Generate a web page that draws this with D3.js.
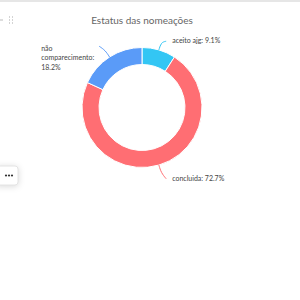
<!DOCTYPE html>
<html>
<head>
<meta charset="utf-8">
<script src="https://cdn.jsdelivr.net/npm/d3@7"></script>
<style>
  body { margin: 0; background: #fff; font-family: Lato, "Open Sans", sans-serif; }
  #chart { width: 300px; height: 300px; }
</style>
</head>
<body>
<div id="chart"></div>
<script>
var categories = ["aceito ajg", "concluida", "não comparecimento"];
var values = [1, 8, 2];
var labelTexts = [["aceito ajg: 9.1%"], ["concluida: 72.7%"], ["não", "comparecimento:", "18.2%"]];
var colors = ["#33c6f4", "#ff6e73", "#5a9bf8"];

function init() {
    var w = 300;
    var h = 300;
    var cx = 142, cy = 107.5;
    var outerR = 60, innerR = 43;

    var svg = d3.select("#chart")
        .append("svg")
        .attr("width", w)
        .attr("height", h);

    // card top border
    svg.append("rect")
        .attr("x", 0).attr("y", 0)
        .attr("width", w).attr("height", 2)
        .attr("fill", "#e6e6e6");

    // drag handle
    svg.append("line")
        .attr("x1", 0).attr("x2", 3).attr("y1", 20).attr("y2", 20)
        .attr("stroke", "#bbb").attr("stroke-width", 1);
    [0, 1, 2].forEach(function(r) {
        [0, 1].forEach(function(c) {
            svg.append("rect")
                .attr("x", 9 + c * 3).attr("y", 16.5 + r * 3)
                .attr("width", 1).attr("height", 1)
                .attr("fill", "#aaa");
        });
    });

    svg.append("text")
        .attr("x", cx)
        .attr("y", 23.5)
        .attr("text-anchor", "middle")
        .attr("font-size", 10)
        .attr("fill", "#666")
        .text("Estatus das nomeações");

    var pie = d3.pie().sort(null).value(function(d) { return d; });
    var arcs = pie(values);
    var arc = d3.arc().innerRadius(innerR).outerRadius(outerR);

    var g = svg.append("g").attr("transform", "translate(" + cx + "," + cy + ")");

    g.selectAll("path.slice")
        .data(arcs)
        .enter()
        .append("path")
        .attr("class", "slice")
        .attr("d", arc)
        .attr("fill", function(d, i) { return colors[i]; })
        .attr("stroke", "#fff")
        .attr("stroke-width", 1);

    // label lines + labels
    var lineGen = d3.line().curve(d3.curveBasis);
    arcs.forEach(function(d, i) {
        var a = (d.startAngle + d.endAngle) / 2;
        var sx = Math.sin(a), sy = -Math.cos(a);
        var right = sx >= 0;
        var top = sy < 0;
        var multi = labelTexts[i].length > 1;
        var p0 = [sx * outerR, sy * outerR];
        var p1 = [sx * (outerR + 8), sy * (outerR + 8)];
        var p2 = [p1[0] + (right ? 5 : -6), p1[1] + (top ? (multi ? -4 : -1) : 6)];
        g.append("path")
            .attr("d", lineGen([p0, p1, p2]))
            .attr("fill", "none")
            .attr("stroke", colors[i])
            .attr("stroke-width", 1);

        var lines = labelTexts[i];
        var lh = 9.5;
        var t = g.append("text")
            .attr("font-size", 7)
            .attr("fill", "#444");
        lines.forEach(function(s, k) {
            t.append("tspan")
                .attr("dy", k === 0 ? 0 : lh)
                .text(s);
        });
        var maxW = 0;
        t.selectAll("tspan").each(function() {
            maxW = Math.max(maxW, this.getComputedTextLength());
        });
        var tx = right ? p2[0] + 6 : p2[0] - 5 - maxW;
        var ty = multi ? p2[1] + 4.5 : p2[1] + 2;
        t.attr("y", ty);
        t.selectAll("tspan").attr("x", tx);
    });

    // menu button
    var btn = svg.append("g");
    btn.append("rect")
        .attr("x", -4).attr("y", 166)
        .attr("width", 22).attr("height", 19)
        .attr("rx", 3)
        .attr("fill", "#fff")
        .attr("stroke", "#e4e4e4")
        .style("filter", "drop-shadow(0 1px 3px rgba(0,0,0,0.15))");
    [0, 1, 2].forEach(function(k) {
        btn.append("circle")
            .attr("cx", 6 + k * 3).attr("cy", 175.5)
            .attr("r", 1.1)
            .attr("fill", "#333");
    });
}

window.onload = init;
</script>
</body>
</html>
